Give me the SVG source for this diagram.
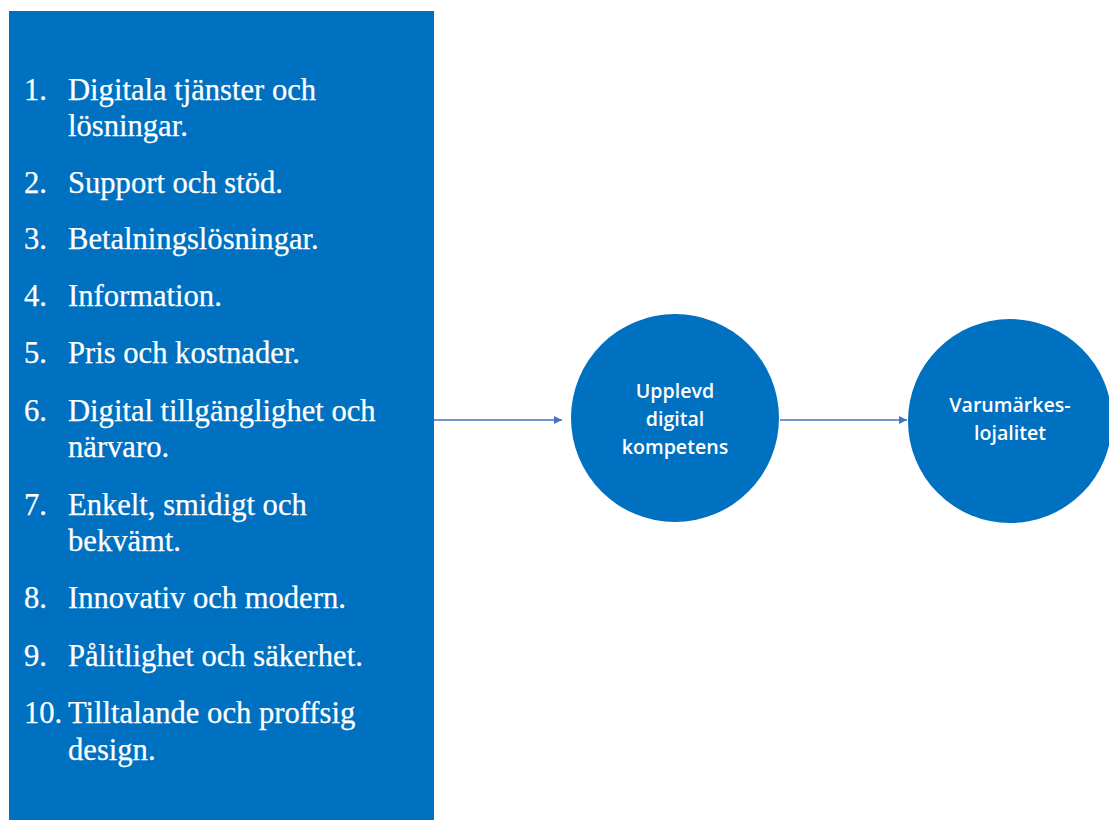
<svg xmlns="http://www.w3.org/2000/svg" width="1109" height="820" viewBox="0 0 1109 820">
<style>
.box{fill:#0070C0;}
.item{font-family:"Liberation Serif","Times New Roman",serif;font-size:30.6px;fill:#ffffff;stroke:#ffffff;stroke-width:0.25;}
.lbl{font-family:"Open Sans","Liberation Sans",sans-serif;font-size:19.6px;font-weight:600;fill:#ffffff;text-anchor:middle;}
.conn{stroke:#4472C4;stroke-width:1.3;fill:none;}
</style>
<defs>
<marker id="arr" viewBox="0 0 10 10" refX="10" refY="5" markerWidth="8" markerHeight="8" markerUnits="userSpaceOnUse" orient="auto">
<path d="M0,0 L10,5 L0,10 Z" fill="#4472C4"/>
</marker>
</defs>
<rect width="1109" height="820" fill="#ffffff"/>
<g id="list">
<rect class="box" x="9" y="11" width="425" height="815"/>
<text class="item" x="24" y="100">1.</text><text class="item" x="68" y="100">Digitala tjänster och</text>
<text class="item" x="68" y="136">lösningar.</text>
<text class="item" x="24" y="193">2.</text><text class="item" x="68" y="193">Support och stöd.</text>
<text class="item" x="24" y="249">3.</text><text class="item" x="68" y="249">Betalningslösningar.</text>
<text class="item" x="24" y="306">4.</text><text class="item" x="68" y="306">Information.</text>
<text class="item" x="24" y="363">5.</text><text class="item" x="68" y="363">Pris och kostnader.</text>
<text class="item" x="24" y="421">6.</text><text class="item" x="68" y="421">Digital tillgänglighet och</text>
<text class="item" x="68" y="457">närvaro.</text>
<text class="item" x="24" y="515">7.</text><text class="item" x="68" y="515">Enkelt, smidigt och</text>
<text class="item" x="68" y="551">bekvämt.</text>
<text class="item" x="24" y="608">8.</text><text class="item" x="68" y="608">Innovativ och modern.</text>
<text class="item" x="24" y="666">9.</text><text class="item" x="68" y="666">Pålitlighet och säkerhet.</text>
<text class="item" x="24" y="723">10.</text><text class="item" x="68" y="723">Tilltalande och proffsig</text>
<text class="item" x="68" y="760">design.</text>
</g>
<g id="connectors">
<line class="conn" x1="434" y1="420" x2="562" y2="420" marker-end="url(#arr)"/>
<line class="conn" x1="780" y1="420" x2="907" y2="420" marker-end="url(#arr)"/>
</g>
<g id="node-kompetens">
<circle class="box" cx="675" cy="418" r="104"/>
<text class="lbl" x="675" y="398">Upplevd</text>
<text class="lbl" x="675" y="426">digital</text>
<text class="lbl" x="675" y="454">kompetens</text>
</g>
<g id="node-lojalitet">
<circle class="box" cx="1010" cy="421" r="102"/>
<text class="lbl" x="1010" y="412">Varumärkes-</text>
<text class="lbl" x="1010" y="440">lojalitet</text>
</g>
</svg>
